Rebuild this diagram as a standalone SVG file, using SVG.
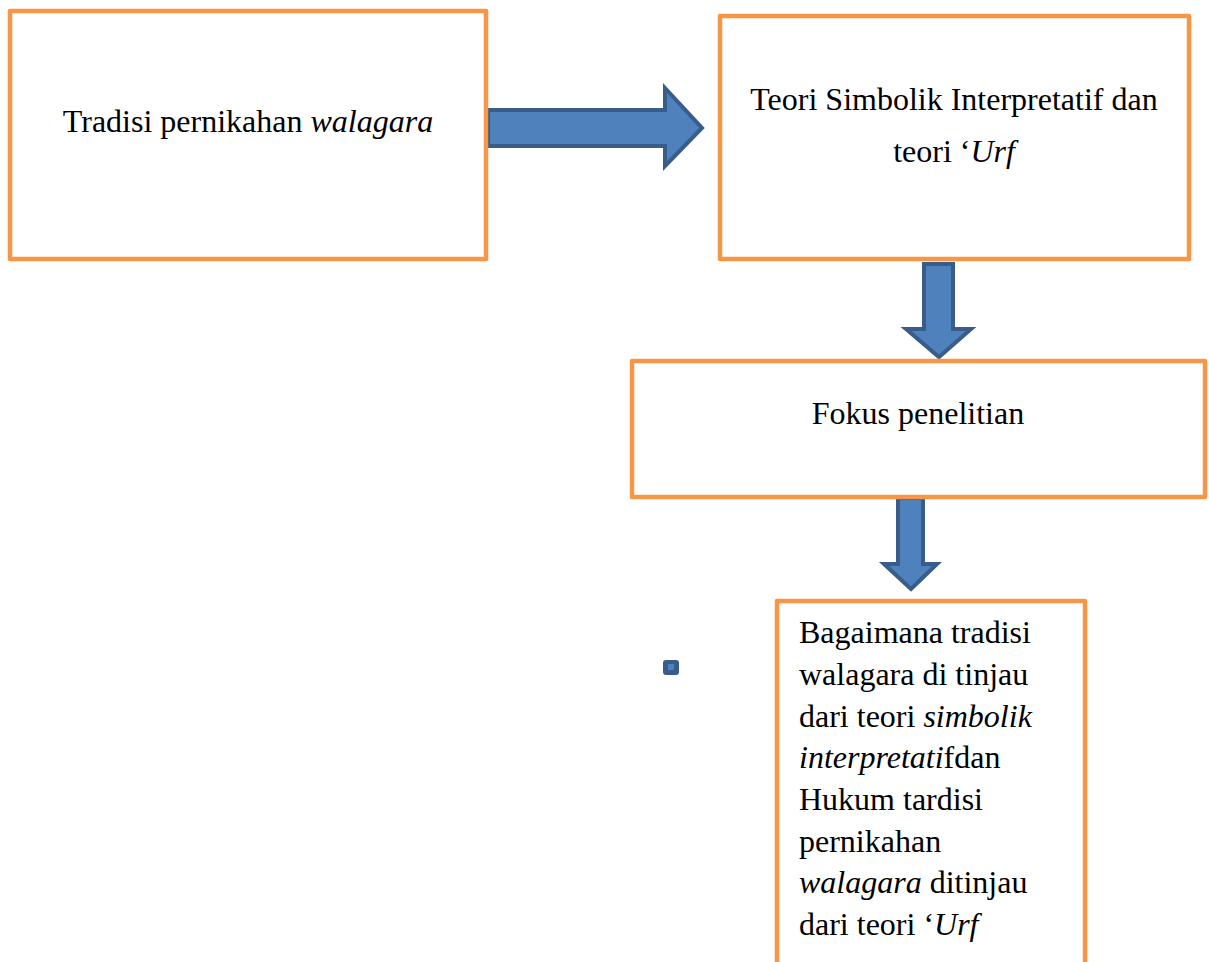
<svg xmlns="http://www.w3.org/2000/svg" width="1209" height="962" viewBox="0 0 1209 962">
<style>
.box{fill:#fff;stroke:#F79646;stroke-width:4.5;stroke-linejoin:round}
.arr{fill:#4F81BD;stroke:#385D8A;stroke-width:4;stroke-linejoin:miter}
text{font-family:"Liberation Serif","Times New Roman",serif;font-size:32px;fill:#000}
.i{font-style:italic}
</style>
<rect width="1209" height="962" fill="#fff"/>
<g id="connectors">
<polygon class="arr" points="488,110 665,110 665,88 702,128 665,166 665,146 488,146"/>
<polygon class="arr" points="924,264 953,264 953,329 971,329 939,357 906,329 924,329"/>
<polygon class="arr" points="898,498 923,498 923,564 937,564 911,589 884,564 898,564"/>
</g>
<g id="node-tradisi">
<rect class="box" x="10" y="11" width="476" height="248"/>
<text x="248" y="132" text-anchor="middle">Tradisi pernikahan <tspan class="i">walagara</tspan></text>
</g>
<g id="node-teori">
<rect class="box" x="720" y="16" width="469" height="243"/>
<text x="954" y="110" text-anchor="middle">Teori Simbolik Interpretatif dan</text>
<text x="954" y="162" text-anchor="middle">teori ‘<tspan class="i">Urf</tspan></text>
</g>
<g id="node-fokus">
<rect class="box" x="632" y="361" width="573" height="136"/>
<text x="918" y="424" text-anchor="middle">Fokus penelitian</text>
</g>
<g id="node-marker">
<rect x="663" y="660" width="16" height="15" rx="3" fill="#385D8A"/>
<rect x="668" y="664" width="6" height="6" fill="#4F81BD"/>
</g>
<g id="node-bagaimana">
<path class="box" d="M777,966 V601 H1085 V966"/>
<text x="799" y="643">Bagaimana tradisi</text>
<text x="799" y="685">walagara di tinjau</text>
<text x="799" y="727">dari teori <tspan class="i">simbolik</tspan></text>
<text x="799" y="768"><tspan class="i">interpretati</tspan>fdan</text>
<text x="799" y="810">Hukum tardisi</text>
<text x="799" y="852">pernikahan</text>
<text x="799" y="893"><tspan class="i">walagara</tspan>  ditinjau</text>
<text x="799" y="935">dari teori ‘<tspan class="i">Urf</tspan></text>
</g>
</svg>
